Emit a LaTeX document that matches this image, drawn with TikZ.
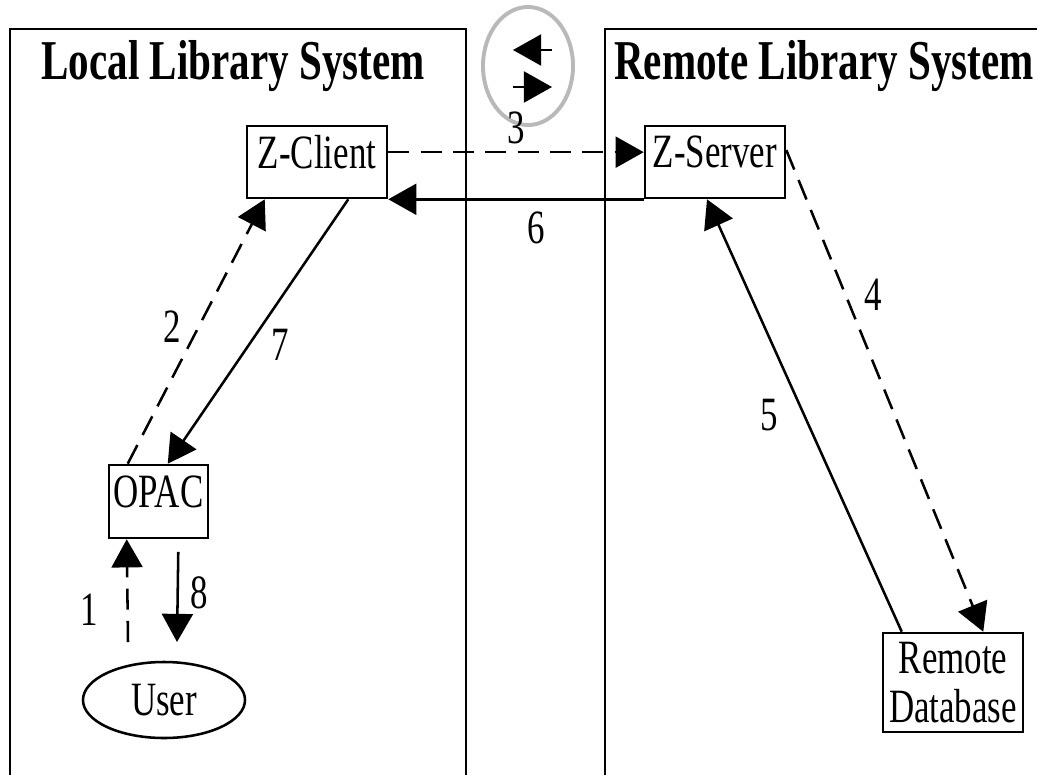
\documentclass[tikz,border=0pt]{standalone}
\usepackage{fontspec}
\setmainfont{Liberation Serif}[FakeStretch=0.73]
\usetikzlibrary{arrows.meta,shapes.geometric}
\begin{document}
\begin{tikzpicture}[x = 0.025cm, y = -0.025cm, line width = 1.8pt,
    >={Triangle[length=20pt, width=22pt]},
    font = \fontsize{34}{35}\selectfont,
    box/.style = {draw, rectangle, inner sep = 0pt, minimum width = 3.5cm, minimum height = 1.8cm, text depth = 14pt},
    title/.style = {anchor = base, font = \fontsize{40}{44}\selectfont\bfseries},
    flow/.style = {dash pattern = on 15pt off 8pt},
    num/.style = {inner sep = 0pt}]
    \useasboundingbox (0,0) rectangle (1037,775);
    % panels
    \draw (10,775) -- (10,29) -- (466,29) -- (466,775);
    \draw (605,775) -- (605,29) -- (1040,29);
    \node[title] (local) at (233,80) {Local Library System};
    \node[title] (remote) at (824,80) {Remote Library System};
    % icon
    \node[draw = gray!55, line width = 2.8pt, ellipse, minimum width = 2.25cm, minimum height = 2.95cm] (icon) at (528,66) {};
    \coordinate (ia) at (552,50);
    \coordinate (ib) at (513,50);
    \coordinate (ic) at (513,87);
    \coordinate (id) at (552,87);
    \draw[->] (ia) -- (ib);
    \draw[->] (ic) -- (id);
    % nodes
    \node[box] (client) at (317,162) {Z-Client};
    \node[box] (server) at (715,162) {Z-Server};
    \node[box, minimum width = 2.475cm, minimum height = 1.825cm] (opac) at (158.5,501.5) {OPAC};
    \node[draw, ellipse, inner sep = 0pt, minimum width = 4.05cm, minimum height = 1.9cm] (user) at (164,700) {User};
    \node[draw, rectangle, align = center, inner sep = 0pt, minimum width = 3.5cm, minimum height = 2.475cm] (db) at (953,682.5) {Remote\\Database};
    \coordinate (u1) at (128,642);
    \coordinate (u8) at (177,642);
    % steps
    \draw[->, flow] (u1) -- ([xshift = 0.475cm]opac.south west) node[num, pos = 0.31, left = 20pt] {1};
    \draw[->, flow] ([xshift = 0.5cm]opac.north west) -- ([xshift = 0.475cm]client.south west) node[num, pos = 0.52, left = 12pt] {2};
    \draw[->, flow] ([yshift = 7pt]client.east) -- ([yshift = 7pt]server.west) node[num, pos = 0.5, above = 5pt] {3};
    \draw[->, flow] ([yshift = 8.5pt]server.east) -- ([xshift = -1.025cm]db.north east) node[num, pos = 0.3, right = 13pt] {4};
    \draw[->] ([xshift = 0.5cm]db.north west) -- ([xshift = -0.2cm]server.south) node[num, pos = 0.5, left = 18pt] {5};
    \draw[->] (server.south west) -- (client.south east) node[num, pos = 0.42, below = 8pt] {6};
    \draw[->] ([xshift = -1cm]client.south east) -- ([xshift = 1.5cm]opac.north west) node[num, pos = 0.55, right = 15pt] {7};
    \draw[->] ([xshift = -0.775cm, yshift = -9pt]opac.south east) -- (u8) node[num, pos = 0.45, right = 8pt] {8};
\end{tikzpicture}
\end{document}
